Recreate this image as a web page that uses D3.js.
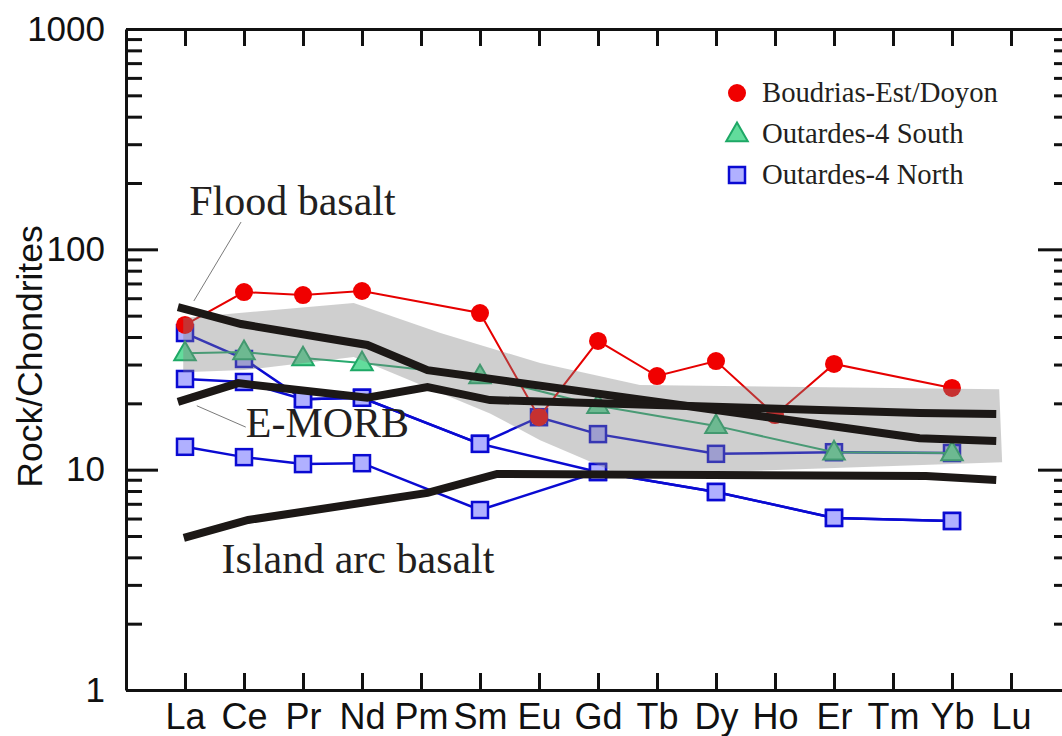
<!DOCTYPE html>
<html>
<head>
<meta charset="utf-8">
<script src="https://cdn.jsdelivr.net/npm/d3@7/dist/d3.min.js"></script>
<style>
  html, body { margin: 0; padding: 0; background: #fff; }
  svg { display: block; }
  .axis path, .axis line { stroke: #111; stroke-width: 3; }
  .axis text { font-family: "Liberation Sans", Arial, sans-serif; fill: #111; }
</style>
</head>
<body>
<svg id="chart" width="1062" height="736"></svg>
<script>
// Chondrite-normalised REE patterns
const elements = ["La","Ce","Pr","Nd","Pm","Sm","Eu","Gd","Tb","Dy","Ho","Er","Tm","Yb","Lu"];

// Boudrias-Est/Doyon
const boudriasEst = [45.4, 64, 62, 64.7, null, 51.4, 17.3, 38.4, 26.6, 31.1, 17.7, 30.2, null, 23.5, null];
// Outardes-4 South
const outardesSouth = [33.8, 34.2, 32.1, 30.5, null, 26.6, null, 19.5, null, 15.8, null, 12.0, null, 11.9, null];
// Outardes-4 North (three samples)
const outardesNorthA = [41.7, 31.8, 20.9, 21.2, null, 13.1, 17.3, 14.5, null, 11.8, null, 12.0, null, 11.9, null];
const outardesNorthB = [25.8, 25.0, 20.9, 21.2, null, 13.1, null, 9.76, null, 7.92, null, 6.04, null, 5.85, null];
const outardesNorthC = [12.7, 11.4, 10.6, 10.7, null, 6.56, null, 9.76, null, 7.92, null, 6.04, null, 5.85, null];

// Reference patterns (position along the element axis, La = 0)
const floodBasaltPos = [-0.12, 0.95, 3.09, 4.11, 12.45, 13.75];
const floodBasaltVal = [54.7, 45.8, 36.8, 28.3, 13.9, 13.5];
const eMorbPos = [-0.12, 0.90, 3.09, 4.11, 5.17, 12.45, 13.75];
const eMorbVal = [20.3, 24.7, 21.2, 23.7, 20.7, 18.1, 17.9];
const islandArcPos = [-0.02, 1.07, 4.11, 5.29, 12.56, 13.75];
const islandArcVal = [4.90, 5.91, 7.84, 9.56, 9.36, 8.98];

// Flood basalt field
const fieldUpperPos = [-0.03, 2.86, 4.33, 6.02, 7.71, 13.8];
const fieldUpperVal = [48.8, 57.1, 41.7, 30.5, 24.2, 23.2];
const fieldLowerPos = [13.85, 9.06, 7.2, 6.02, 5.17, 2.86, 1.0, -0.03];
const fieldLowerVal = [10.8, 9.76, 9.97, 13.6, 18.0, 32.5, 28.3, 27.7];

const yMajorTicks = [1, 10, 100, 1000];
const legendLabels = ["Boudrias-Est/Doyon", "Outardes-4 South", "Outardes-4 North"];

// ---------------------------------------------------------------
const svg = d3.select("#chart");
const frame = { left: 126, right: 1070, top: 29, bottom: 690 };

const x = d3.scaleLinear().domain([-1, elements.length]).range([frame.left, frame.right]);
const y = d3.scaleLog().domain([1, 1000]).range([frame.bottom, frame.top]);

const minorTicks = [];
for (let d = 1; d < 1000; d *= 10) for (let k = 2; k <= 9; k++) minorTicks.push(d * k);

const serif = '"Liberation Serif", "Times New Roman", serif';
const sans = '"Liberation Sans", Arial, sans-serif';

const series = (vals) => vals.map((v, i) => ({ i, v })).filter(d => d.v != null);
const pairs = (pos, val) => pos.map((p, k) => ({ i: p, v: val[k] }));
const line = d3.line().x(d => x(d.i)).y(d => y(d.v));

// Styles
const red = { line: "#e60000", fill: "#f00000" };
const green = { line: "#28aa6e", fill: "#62dc9c", stroke: "#1ea866" };
const blue = { line: "#0a0ad2", fill: "#b0b0ff", stroke: "#0a0ad2" };

const tri = d3.symbol().type(d3.symbolTriangle).size(200);

function drawSquares(g, data) {
  g.selectAll(null).data(data).join("rect")
    .attr("x", d => x(d.i) - 8).attr("y", d => y(d.v) - 8)
    .attr("width", 16).attr("height", 16)
    .attr("fill", blue.fill).attr("stroke", blue.stroke).attr("stroke-width", 2.5);
}
function drawTriangles(g, data) {
  g.selectAll(null).data(data).join("path")
    .attr("d", tri)
    .attr("transform", d => `translate(${x(d.i)},${y(d.v) + 1})`)
    .attr("fill", green.fill).attr("stroke", green.stroke).attr("stroke-width", 2);
}
function drawCircles(g, data) {
  g.selectAll(null).data(data).join("circle")
    .attr("cx", d => x(d.i)).attr("cy", d => y(d.v)).attr("r", 9)
    .attr("fill", red.fill);
}

// ---- sample patterns ----
const gData = svg.append("g");
const north = [outardesNorthA, outardesNorthB, outardesNorthC].map(series);
north.forEach(s => gData.append("path").attr("d", line(s))
  .attr("fill", "none").attr("stroke", blue.line).attr("stroke-width", 2.5));
north.forEach(s => drawSquares(gData, s));

const south = series(outardesSouth);
gData.append("path").attr("d", line(south))
  .attr("fill", "none").attr("stroke", green.line).attr("stroke-width", 2);
drawTriangles(gData, south);

const boud = series(boudriasEst);
gData.append("path").attr("d", line(boud))
  .attr("fill", "none").attr("stroke", red.line).attr("stroke-width", 2);
drawCircles(gData, boud);

// ---- flood basalt field (translucent, over the samples) ----
const field = pairs(fieldUpperPos, fieldUpperVal).concat(pairs(fieldLowerPos, fieldLowerVal));
svg.append("path").attr("d", line(field) + "Z")
  .attr("fill", "rgb(128,128,128)").attr("fill-opacity", 0.38).attr("stroke", "none");

// ---- reference lines ----
[[floodBasaltPos, floodBasaltVal], [eMorbPos, eMorbVal], [islandArcPos, islandArcVal]]
  .forEach(([p, v]) => svg.append("path").attr("d", line(pairs(p, v)))
    .attr("fill", "none").attr("stroke", "#1c1816").attr("stroke-width", 8)
    .attr("stroke-linejoin", "miter"));

// ---- annotations ----
const pointer = (a, b) => svg.append("line")
  .attr("x1", x(a[0])).attr("y1", y(a[1])).attr("x2", x(b[0])).attr("y2", y(b[1]))
  .attr("stroke", "#7a7a7a").attr("stroke-width", 1);
pointer([0.95, 133], [0.15, 58.3]);
pointer([0.2, 19.5], [1.03, 15.6]);

const note = (text, at) => svg.append("text")
  .attr("x", x(at[0])).attr("y", y(at[1]))
  .attr("font-family", serif).attr("font-size", 42).attr("fill", "#231f20")
  .text(text);
note("Flood basalt", [0.07, 143]);
note("E-MORB", [1.03, 14.0]);
note("Island arc basalt", [0.62, 3.39]);

// ---- axes ----
const xTicks = d3.range(elements.length);
svg.append("g").attr("class", "axis")
  .attr("transform", `translate(0,${frame.bottom})`)
  .call(d3.axisBottom(x).tickValues(xTicks).tickFormat(i => elements[i])
    .tickSizeInner(-17).tickSizeOuter(0).tickPadding(13))
  .call(g => g.selectAll("text").attr("font-size", 36));
svg.append("g").attr("class", "axis")
  .attr("transform", `translate(0,${frame.top})`)
  .call(d3.axisTop(x).tickValues(xTicks).tickFormat("").tickSizeInner(-17).tickSizeOuter(0));

svg.append("g").attr("class", "axis")
  .attr("transform", `translate(${frame.left},0)`)
  .call(d3.axisLeft(y).tickValues(yMajorTicks).tickFormat(d3.format("d"))
    .tickSizeInner(-32).tickSizeOuter(0).tickPadding(21))
  .call(g => g.selectAll("text").attr("font-size", 35));
svg.append("g").attr("class", "axis")
  .attr("transform", `translate(${frame.left},0)`)
  .call(d3.axisLeft(y).tickValues(minorTicks).tickFormat("").tickSizeInner(-16).tickSizeOuter(0))
  .call(g => g.select(".domain").remove());

svg.append("g").attr("class", "axis")
  .attr("transform", `translate(${frame.right},0)`)
  .call(d3.axisRight(y).tickValues(yMajorTicks).tickFormat("").tickSizeInner(-32).tickSizeOuter(0));
svg.append("g").attr("class", "axis")
  .attr("transform", `translate(${frame.right},0)`)
  .call(d3.axisRight(y).tickValues(minorTicks).tickFormat("").tickSizeInner(-16).tickSizeOuter(0))
  .call(g => g.select(".domain").remove());

svg.append("text")
  .attr("transform", `translate(42,${(frame.top + frame.bottom) / 2 - 3}) rotate(-90)`)
  .attr("text-anchor", "middle")
  .attr("font-family", sans).attr("font-size", 35.5).attr("fill", "#111")
  .text("Rock/Chondrites");

// ---- legend ----
const lg = svg.append("g").attr("transform", "translate(737,93)");
const rowGap = 41;
lg.append("circle").attr("cx", 0).attr("cy", 0).attr("r", 9).attr("fill", red.fill);
lg.append("path").attr("d", tri)
  .attr("transform", `translate(0,${rowGap + 1})`)
  .attr("fill", green.fill).attr("stroke", green.stroke).attr("stroke-width", 2);
lg.append("rect").attr("x", -8).attr("y", 2 * rowGap - 8).attr("width", 16).attr("height", 16)
  .attr("fill", blue.fill).attr("stroke", blue.stroke).attr("stroke-width", 2.5);
legendLabels.forEach((t, k) => lg.append("text")
  .attr("x", 25).attr("y", k * rowGap + 9)
  .attr("font-family", serif).attr("font-size", 28.7).attr("fill", "#231f20")
  .text(t));
</script>
</body>
</html>
